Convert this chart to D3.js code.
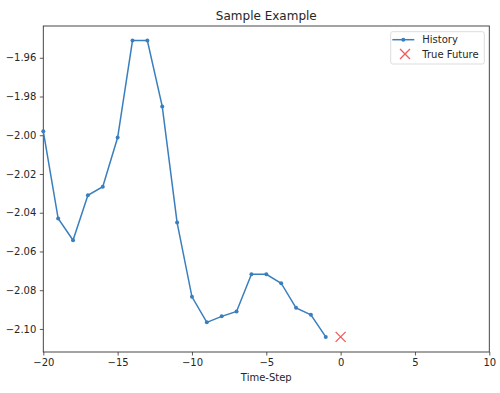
<!DOCTYPE html>
<html>
<head>
<meta charset="utf-8">
<script src="https://cdn.jsdelivr.net/npm/d3@7"></script>
<style>
  body { margin: 0; background: #fff; }
  svg { display: block; font-family: "DejaVu Sans", sans-serif; }
</style>
</head>
<body>
<svg id="grafica"></svg>
<script>
const svg_w = 500;
const svg_h = 393;
const margin = {l:43.3, r:10.7, t:26, b:41};
const viz_w = svg_w - margin.l - margin.r;
const viz_h = svg_h - margin.t - margin.b;

// datos
const history_steps = [-20,-19,-18,-17,-16,-15,-14,-13,-12,-11,-10,-9,-8,-7,-6,-5,-4,-3,-2,-1];
const history_values = [-1.998,-2.043,-2.0542,-2.031,-2.0266,-2.0012,-1.9511,-1.9511,-1.9851,-2.0451,
  -2.0834,-2.0966,-2.0935,-2.0910,-2.0718,-2.0718,-2.0764,-2.0891,-2.0927,-2.1041];
const future_steps = [0];
const future_values = [-2.1041];
const x_ticks = [-20,-15,-10,-5,0,5,10];
const y_ticks = [-1.96,-1.98,-2.00,-2.02,-2.04,-2.06,-2.08,-2.10];

const history = history_steps.map((s,i) => ({x:s, y:history_values[i]}));
const future = future_steps.map((s,i) => ({x:s, y:future_values[i]}));

const svg = d3.select("#grafica")
  .attr("width", svg_w)
  .attr("height", svg_h);

const x_scale = d3.scaleLinear().domain([-20,10]).range([0,viz_w]);
const y_scale = d3.scaleLinear().domain([-2.1119,-1.9436]).range([viz_h,0]);

const g = svg.append("g").attr("transform", `translate(${margin.l},${margin.t})`);

// ejes
const x_axis = g.append("g")
  .attr("transform", `translate(0,${viz_h})`)
  .call(d3.axisBottom(x_scale).tickValues(x_ticks).tickSize(3.5).tickPadding(3.5).tickFormat(d3.format("d")));
const y_axis = g.append("g")
  .call(d3.axisLeft(y_scale).tickValues(y_ticks).tickSize(3.5).tickPadding(3.5).tickFormat(d3.format(".2f")));

[x_axis, y_axis].forEach(a => {
  a.select(".domain").remove();
  a.selectAll("line").attr("stroke", "#333").attr("stroke-width", 0.8);
  a.selectAll("text").attr("fill", "#262626").style("font-size", "10px").style("font-family", "DejaVu Sans, sans-serif");
});

// marco
g.append("rect")
  .attr("width", viz_w).attr("height", viz_h)
  .attr("fill", "none").attr("stroke", "#333").attr("stroke-width", 0.9);

// línea de historia
const blue = "#3a7fbd";
g.append("path")
  .datum(history)
  .attr("fill", "none")
  .attr("stroke", blue)
  .attr("stroke-width", 1.5)
  .attr("d", d3.line().x(d => x_scale(d.x)).y(d => y_scale(d.y)));

g.selectAll(".pt")
  .data(history)
  .enter()
  .append("circle")
  .attr("class", "pt")
  .attr("cx", d => x_scale(d.x))
  .attr("cy", d => y_scale(d.y))
  .attr("r", 2)
  .attr("fill", blue);

// futuro verdadero
const red = "#f05a5a";
const cross = (sel, s) => sel.append("path")
  .attr("d", `M${-s},${-s}L${s},${s}M${-s},${s}L${s},${-s}`)
  .attr("stroke", red).attr("stroke-width", 1.3).attr("fill", "none");

g.selectAll(".fut")
  .data(future)
  .enter()
  .append("g")
  .attr("class", "fut")
  .attr("transform", d => `translate(${x_scale(d.x)},${y_scale(d.y)})`)
  .each(function() { cross(d3.select(this), 5); });

// título y etiqueta
svg.append("text")
  .attr("x", margin.l + viz_w/2).attr("y", margin.t - 6)
  .attr("text-anchor", "middle")
  .style("font-size", "12px").attr("fill", "#262626")
  .text("Sample Example");

svg.append("text")
  .attr("x", margin.l + viz_w/2).attr("y", 381)
  .attr("text-anchor", "middle")
  .style("font-size", "10px").attr("fill", "#262626")
  .text("Time-Step");

// leyenda
const leg = svg.append("g").attr("transform", "translate(390.7,31.7)");
leg.append("rect")
  .attr("width", 93.6).attr("height", 32.3).attr("rx", 2)
  .attr("fill", "#fff").attr("stroke", "#d9d9d9").attr("stroke-width", 0.9);
leg.append("line")
  .attr("x1", 1.6).attr("x2", 23.6).attr("y1", 8).attr("y2", 8)
  .attr("stroke", blue).attr("stroke-width", 1.5);
leg.append("circle").attr("cx", 12.6).attr("cy", 8).attr("r", 2).attr("fill", blue);
cross(leg.append("g").attr("transform", "translate(14.3,22.3)"), 5);
leg.append("text").attr("x", 31.6).attr("y", 11.5).style("font-size", "10px").attr("fill", "#262626").text("History");
leg.append("text").attr("x", 31.6).attr("y", 26).style("font-size", "10px").attr("fill", "#262626").text("True Future");
</script>
</body>
</html>
